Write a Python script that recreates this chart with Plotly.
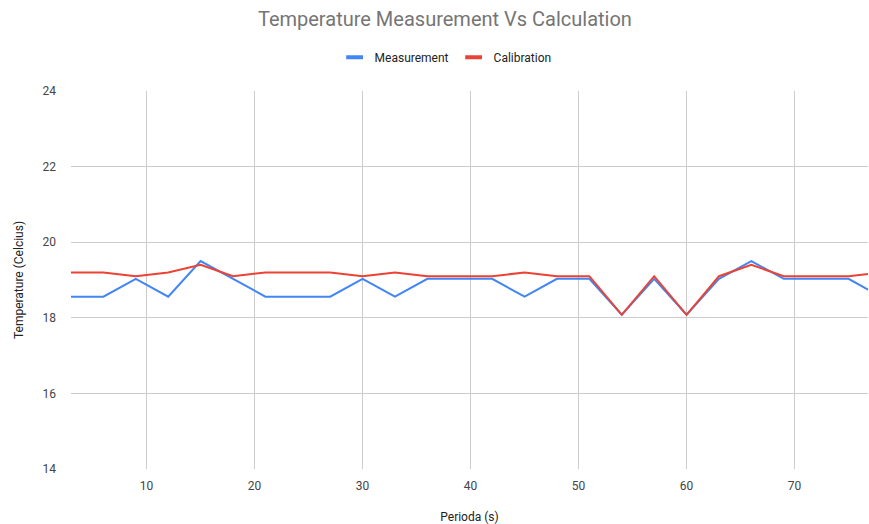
import plotly.graph_objects as go

periods = [3, 6, 9, 12, 15, 18, 21, 24, 27, 30, 33, 36, 39, 42, 45, 48, 51, 54, 57, 60, 63, 66, 69, 72, 75, 78]
measurement = [18.56, 18.56, 19.03, 18.56, 19.5, 19.03, 18.56, 18.56, 18.56, 19.03, 18.56, 19.03, 19.03, 19.03,
               18.56, 19.03, 19.03, 18.08, 19.03, 18.08, 19.03, 19.5, 19.03, 19.03, 19.03, 18.56]
calibration = [19.2, 19.2, 19.1, 19.2, 19.4, 19.1, 19.2, 19.2, 19.2, 19.1, 19.2, 19.1, 19.1, 19.1,
               19.2, 19.1, 19.1, 18.08, 19.1, 18.08, 19.1, 19.4, 19.1, 19.1, 19.1, 19.2]
y_ticks = [14, 16, 18, 20, 22, 24]
x_ticks = [10, 20, 30, 40, 50, 60, 70]

font = "Roboto, Arial, sans-serif"
series = [("Measurement", measurement, "#4285F4"), ("Calibration", calibration, "#EA4335")]

fig = go.Figure()
for name, vals, color in series:
    fig.add_trace(go.Scatter(x=periods, y=vals, mode="lines", name=name, showlegend=False,
                             line=dict(color=color, width=2)))
for name, vals, color in series:
    fig.add_trace(go.Scatter(x=[None], y=[None], mode="markers", name=name, showlegend=True,
                             marker=dict(symbol="line-ew", size=12, line=dict(color=color, width=4))))

fig.update_layout(
    width=869, height=524,
    margin=dict(l=71, r=1, t=91, b=55),
    paper_bgcolor="white", plot_bgcolor="white",
    font=dict(family=font, size=12, color="#444444"),
    title=dict(text="Temperature Measurement Vs Calculation", x=0.512, xanchor="center",
               y=0.963, yanchor="middle", font=dict(family=font, size=20, color="#757575")),
    legend=dict(orientation="h", x=0.47, xanchor="center", y=1.089, yanchor="middle",
                font=dict(size=12, color="#222222"), itemwidth=30, traceorder="normal"),
    showlegend=True,
)
fig.update_xaxes(range=[3, 76.8], tickvals=x_ticks, showgrid=True, gridcolor="#cccccc", gridwidth=1,
                 zeroline=False, showline=False, ticks="", ticklabelstandoff=8,
                 tickfont=dict(size=12, color="#444444"),
                 title=dict(text="Perioda (s)", font=dict(size=12, color="#222222"), standoff=20))
fig.update_yaxes(range=[14, 24], tickvals=y_ticks, showgrid=True, gridcolor="#cccccc", gridwidth=1,
                 zeroline=False, showline=False, ticks="", ticklabelstandoff=14,
                 tickfont=dict(size=12, color="#444444"),
                 title=dict(text="Temperature (Celcius)", font=dict(size=12, color="#222222"), standoff=16))

fig.write_html("out.html", config={"displayModeBar": False},
               post_script="document.body.style.margin='0';document.body.style.overflow='hidden';")
